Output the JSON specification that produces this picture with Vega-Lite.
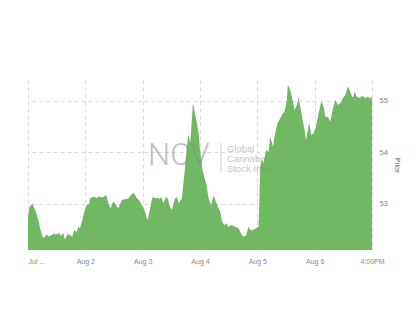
{
  "$schema": "https://vega.github.io/schema/vega-lite/v6.json",
  "width": 344,
  "height": 170,
  "autosize": {"type": "none"},
  "padding": {"left": 28, "top": 80, "right": 48, "bottom": 72},
  "background": "white",
  "config": {"view": {"stroke": null}, "font": "Liberation Sans"},
  "datasets": {
    "price": [
      {"t":0,"v":52.741},{"t":0.017,"v":52.876},{"t":0.035,"v":52.974},{"t":0.052,"v":52.954},{"t":0.075,"v":53.007},{"t":0.093,"v":52.954},{"t":0.110,"v":52.915},{"t":0.131,"v":52.857},{"t":0.152,"v":52.779},{"t":0.175,"v":52.702},{"t":0.192,"v":52.624},{"t":0.209,"v":52.527},{"t":0.227,"v":52.455},{"t":0.244,"v":52.391},{"t":0.267,"v":52.327},{"t":0.279,"v":52.352},{"t":0.297,"v":52.358},{"t":0.314,"v":52.391},{"t":0.326,"v":52.411},{"t":0.349,"v":52.372},{"t":0.367,"v":52.358},{"t":0.393,"v":52.381},{"t":0.414,"v":52.391},{"t":0.436,"v":52.401},{"t":0.459,"v":52.424},{"t":0.480,"v":52.401},{"t":0.501,"v":52.411},{"t":0.524,"v":52.420},{"t":0.541,"v":52.424},{"t":0.559,"v":52.411},{"t":0.576,"v":52.372},{"t":0.594,"v":52.411},{"t":0.616,"v":52.424},{"t":0.632,"v":52.352},{"t":0.646,"v":52.294},{"t":0.663,"v":52.352},{"t":0.686,"v":52.411},{"t":0.707,"v":52.401},{"t":0.733,"v":52.391},{"t":0.751,"v":52.372},{"t":0.773,"v":52.358},{"t":0.791,"v":52.430},{"t":0.808,"v":52.488},{"t":0.829,"v":52.469},{"t":0.850,"v":52.455},{"t":0.864,"v":52.508},{"t":0.878,"v":52.552},{"t":0.890,"v":52.537},{"t":0.908,"v":52.521},{"t":0.925,"v":52.605},{"t":0.948,"v":52.682},{"t":0.965,"v":52.779},{"t":0.983,"v":52.843},{"t":1.004,"v":52.915},{"t":1.025,"v":52.974},{"t":1.047,"v":52.993},{"t":1.065,"v":52.983},{"t":1.082,"v":53.090},{"t":1.109,"v":53.119},{"t":1.140,"v":53.135},{"t":1.170,"v":53.129},{"t":1.199,"v":53.104},{"t":1.222,"v":53.129},{"t":1.245,"v":53.148},{"t":1.266,"v":53.119},{"t":1.283,"v":53.129},{"t":1.315,"v":53.123},{"t":1.336,"v":53.148},{"t":1.362,"v":53.168},{"t":1.383,"v":53.090},{"t":1.402,"v":53.007},{"t":1.423,"v":52.954},{"t":1.444,"v":52.909},{"t":1.466,"v":52.993},{"t":1.489,"v":53.038},{"t":1.510,"v":53.012},{"t":1.536,"v":52.974},{"t":1.557,"v":52.935},{"t":1.576,"v":52.909},{"t":1.606,"v":52.993},{"t":1.636,"v":53.071},{"t":1.664,"v":53.080},{"t":1.693,"v":53.084},{"t":1.723,"v":53.090},{"t":1.751,"v":53.104},{"t":1.772,"v":53.129},{"t":1.793,"v":53.168},{"t":1.816,"v":53.187},{"t":1.838,"v":53.212},{"t":1.868,"v":53.168},{"t":1.898,"v":53.104},{"t":1.926,"v":53.080},{"t":1.955,"v":53.038},{"t":1.985,"v":52.974},{"t":2.013,"v":52.909},{"t":2.043,"v":52.838},{"t":2.060,"v":52.779},{"t":2.077,"v":52.702},{"t":2.090,"v":52.682},{"t":2.112,"v":52.818},{"t":2.130,"v":52.909},{"t":2.154,"v":53.051},{"t":2.177,"v":53.135},{"t":2.200,"v":53.119},{"t":2.217,"v":53.104},{"t":2.243,"v":53.109},{"t":2.275,"v":53.109},{"t":2.296,"v":53.090},{"t":2.322,"v":53.123},{"t":2.343,"v":53.071},{"t":2.362,"v":53.007},{"t":2.392,"v":53.090},{"t":2.421,"v":53.135},{"t":2.444,"v":53.071},{"t":2.462,"v":52.974},{"t":2.484,"v":52.925},{"t":2.509,"v":52.876},{"t":2.531,"v":52.974},{"t":2.554,"v":53.071},{"t":2.575,"v":53.109},{"t":2.596,"v":53.123},{"t":2.619,"v":53.051},{"t":2.636,"v":53.007},{"t":2.659,"v":53.061},{"t":2.683,"v":53.104},{"t":2.706,"v":53.342},{"t":2.729,"v":53.589},{"t":2.750,"v":53.847},{"t":2.771,"v":54.105},{"t":2.785,"v":54.235},{"t":2.799,"v":54.332},{"t":2.815,"v":54.255},{"t":2.828,"v":54.171},{"t":2.846,"v":54.429},{"t":2.858,"v":54.624},{"t":2.868,"v":54.818},{"t":2.875,"v":54.934},{"t":2.889,"v":54.895},{"t":2.903,"v":54.818},{"t":2.924,"v":54.682},{"t":2.945,"v":54.559},{"t":2.959,"v":54.488},{"t":2.973,"v":54.396},{"t":2.989,"v":54.196},{"t":3.003,"v":54.008},{"t":3.024,"v":53.828},{"t":3.043,"v":53.653},{"t":3.066,"v":53.556},{"t":3.090,"v":53.459},{"t":3.104,"v":53.401},{"t":3.120,"v":53.329},{"t":3.134,"v":53.206},{"t":3.148,"v":53.104},{"t":3.172,"v":53.032},{"t":3.195,"v":52.974},{"t":3.216,"v":53.071},{"t":3.235,"v":53.168},{"t":3.251,"v":53.119},{"t":3.265,"v":53.071},{"t":3.288,"v":53.007},{"t":3.312,"v":52.941},{"t":3.335,"v":52.886},{"t":3.352,"v":52.843},{"t":3.368,"v":52.760},{"t":3.382,"v":52.663},{"t":3.410,"v":52.605},{"t":3.431,"v":52.585},{"t":3.457,"v":52.618},{"t":3.478,"v":52.585},{"t":3.497,"v":52.552},{"t":3.527,"v":52.566},{"t":3.556,"v":52.585},{"t":3.584,"v":52.566},{"t":3.614,"v":52.552},{"t":3.642,"v":52.537},{"t":3.671,"v":52.521},{"t":3.692,"v":52.479},{"t":3.713,"v":52.424},{"t":3.736,"v":52.391},{"t":3.759,"v":52.358},{"t":3.783,"v":52.372},{"t":3.806,"v":52.391},{"t":3.827,"v":52.469},{"t":3.846,"v":52.552},{"t":3.862,"v":52.517},{"t":3.876,"v":52.488},{"t":3.898,"v":52.479},{"t":3.923,"v":52.488},{"t":3.951,"v":52.508},{"t":3.980,"v":52.521},{"t":4.001,"v":52.537},{"t":4.020,"v":52.552},{"t":4.036,"v":53.071},{"t":4.050,"v":53.717},{"t":4.064,"v":53.789},{"t":4.080,"v":53.847},{"t":4.094,"v":53.818},{"t":4.108,"v":53.783},{"t":4.132,"v":53.925},{"t":4.155,"v":54.041},{"t":4.176,"v":54.022},{"t":4.195,"v":54.008},{"t":4.211,"v":54.158},{"t":4.225,"v":54.299},{"t":4.248,"v":54.216},{"t":4.272,"v":54.105},{"t":4.291,"v":54.235},{"t":4.312,"v":54.365},{"t":4.333,"v":54.468},{"t":4.352,"v":54.559},{"t":4.375,"v":54.604},{"t":4.399,"v":54.657},{"t":4.422,"v":54.701},{"t":4.446,"v":54.754},{"t":4.469,"v":54.779},{"t":4.487,"v":54.851},{"t":4.501,"v":54.934},{"t":4.516,"v":55.012},{"t":4.527,"v":55.245},{"t":4.535,"v":55.303},{"t":4.556,"v":55.254},{"t":4.574,"v":55.206},{"t":4.595,"v":55.109},{"t":4.614,"v":55.012},{"t":4.632,"v":54.915},{"t":4.649,"v":54.818},{"t":4.670,"v":54.866},{"t":4.691,"v":54.915},{"t":4.705,"v":54.992},{"t":4.719,"v":55.076},{"t":4.734,"v":54.983},{"t":4.748,"v":54.882},{"t":4.769,"v":54.759},{"t":4.789,"v":54.624},{"t":4.806,"v":54.527},{"t":4.824,"v":54.429},{"t":4.836,"v":54.332},{"t":4.848,"v":54.235},{"t":4.866,"v":54.332},{"t":4.883,"v":54.429},{"t":4.893,"v":54.507},{"t":4.906,"v":54.559},{"t":4.923,"v":54.449},{"t":4.941,"v":54.332},{"t":4.961,"v":54.352},{"t":4.981,"v":54.365},{"t":5.002,"v":54.429},{"t":5.023,"v":54.493},{"t":5.046,"v":54.624},{"t":5.068,"v":54.754},{"t":5.093,"v":54.876},{"t":5.115,"v":54.979},{"t":5.136,"v":54.934},{"t":5.155,"v":54.882},{"t":5.171,"v":54.789},{"t":5.185,"v":54.688},{"t":5.208,"v":54.682},{"t":5.232,"v":54.688},{"t":5.251,"v":54.643},{"t":5.272,"v":54.591},{"t":5.293,"v":54.701},{"t":5.312,"v":54.818},{"t":5.337,"v":54.915},{"t":5.360,"v":55.012},{"t":5.383,"v":54.963},{"t":5.407,"v":54.915},{"t":5.427,"v":54.934},{"t":5.448,"v":54.948},{"t":5.468,"v":54.992},{"t":5.488,"v":55.045},{"t":5.512,"v":55.080},{"t":5.535,"v":55.109},{"t":5.559,"v":55.206},{"t":5.582,"v":55.270},{"t":5.604,"v":55.225},{"t":5.621,"v":55.173},{"t":5.651,"v":55.070},{"t":5.679,"v":55.076},{"t":5.691,"v":55.173},{"t":5.714,"v":55.128},{"t":5.738,"v":55.076},{"t":5.761,"v":55.060},{"t":5.784,"v":55.045},{"t":5.805,"v":55.070},{"t":5.826,"v":55.095},{"t":5.854,"v":55.070},{"t":5.883,"v":55.045},{"t":5.904,"v":55.060},{"t":5.923,"v":55.076},{"t":5.946,"v":55.060},{"t":5.970,"v":55.045},{"t":6.000,"v":55.076}
    ],
    "logo": [{"t": 2.095, "v": 53.925, "label": "NCV"}],
    "divider": [{"t": 3.364, "v": 54.177, "v2": 53.614}],
    "sub": [
      {"t": 3.469, "v": 54.070, "label": "Global"},
      {"t": 3.469, "v": 53.876, "label": "Cannabis"},
      {"t": 3.469, "v": 53.682, "label": "Stock Index"}
    ]
  },
  "layer": [
    {
      "data": {"name": "price"},
      "mark": {"type": "area", "color": "#70b862", "opacity": 1, "interpolate": "linear", "clip": true},
      "encoding": {
        "x": {
          "field": "t", "type": "quantitative",
          "scale": {"domain": [0, 6], "nice": false, "zero": false},
          "axis": {
            "values": [0, 1, 2, 3, 4, 5, 6],
            "labelExpr": "['Jul ...','Aug 2','Aug 3','Aug 4','Aug 5','Aug 6','4:00PM'][round(datum.value)]",
            "labelAlign": {"condition": {"test": "datum.value == 0", "value": "left"}, "value": "center"},
            "title": null,
            "domain": false,
            "ticks": false,
            "labelFontSize": 7,
            "labelColor": "#8a8a8a",
            "labelPadding": 7,
            "grid": true,
            "gridColor": "#dcdcdc",
            "gridDash": [4, 3],
            "gridWidth": 1
          }
        },
        "y": {
          "field": "v", "type": "quantitative",
          "scale": {"domain": [52.1, 55.4], "nice": false, "zero": false},
          "axis": {
            "orient": "right",
            "values": [53, 54, 55],
            "format": "d",
            "title": "Price",
            "titleFontSize": 6.5,
            "titleFontWeight": "normal",
            "titleColor": "#555555",
            "titlePadding": 6,
            "domain": false,
            "ticks": false,
            "labelFontSize": 7.5,
            "labelColor": "#8a8a8a",
            "labelPadding": 7,
            "grid": true,
            "gridColor": "#dcdcdc",
            "gridDash": [4, 3],
            "gridWidth": 1
          }
        }
      }
    },
    {
      "data": {"name": "logo"},
      "mark": {"type": "text", "align": "left", "baseline": "middle", "fontSize": 31, "font": "Roboto", "fontWeight": 300, "color": "#8c8c8c", "opacity": 0.55},
      "encoding": {
        "x": {"field": "t", "type": "quantitative"},
        "y": {"field": "v", "type": "quantitative"},
        "text": {"field": "label"}
      }
    },
    {
      "data": {"name": "divider"},
      "mark": {"type": "rule", "color": "#bbbbbb", "strokeWidth": 1, "opacity": 0.7},
      "encoding": {
        "x": {"field": "t", "type": "quantitative"},
        "y": {"field": "v", "type": "quantitative"},
        "y2": {"field": "v2"}
      }
    },
    {
      "data": {"name": "sub"},
      "mark": {"type": "text", "align": "left", "baseline": "middle", "fontSize": 9.5, "font": "Liberation Sans", "color": "#8c8c8c", "opacity": 0.5},
      "encoding": {
        "x": {"field": "t", "type": "quantitative"},
        "y": {"field": "v", "type": "quantitative"},
        "text": {"field": "label"}
      }
    }
  ]
}
